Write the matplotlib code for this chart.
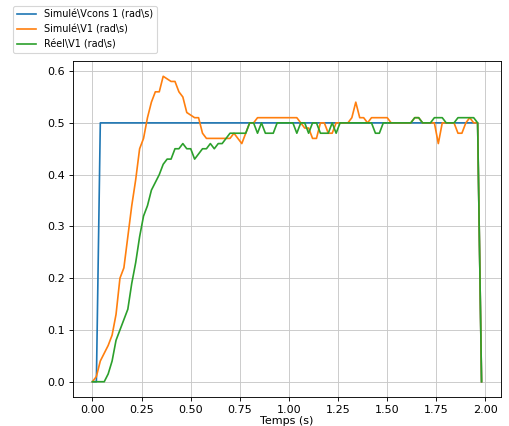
import numpy as np
import matplotlib
matplotlib.use("Agg")
import matplotlib.pyplot as plt

# time base (s), one sample every 0.02 s
temps = np.round(np.arange(0, 2.0, 0.02), 2)

# consigne simulee
vcons = [0.0, 0.0] + [0.5] * 97 + [0.0]

# vitesse simulee
v1_sim = [0.00, 0.01, 0.04, 0.055, 0.07, 0.09, 0.13, 0.20, 0.22, 0.28,
          0.34, 0.39, 0.45, 0.47, 0.51, 0.54, 0.56, 0.56, 0.59, 0.585,
          0.58, 0.58, 0.56, 0.55, 0.52, 0.515, 0.51, 0.51, 0.48, 0.47,
          0.47, 0.47, 0.47, 0.47, 0.47, 0.47, 0.48, 0.47, 0.46, 0.48,
          0.50, 0.50, 0.51, 0.51, 0.51, 0.51, 0.51, 0.51, 0.51, 0.51,
          0.51, 0.51, 0.51, 0.50, 0.49, 0.49, 0.47, 0.47, 0.50, 0.50,
          0.48, 0.48, 0.50, 0.50, 0.50, 0.50, 0.51, 0.54, 0.51, 0.51,
          0.50, 0.51, 0.51, 0.51, 0.51, 0.51, 0.50, 0.50, 0.50, 0.50,
          0.50, 0.50, 0.51, 0.51, 0.50, 0.50, 0.50, 0.50, 0.46, 0.50,
          0.50, 0.50, 0.50, 0.48, 0.48, 0.50, 0.51, 0.50, 0.50, 0.00]

# vitesse reelle mesuree
v1_reel = [0.00, 0.00, 0.00, 0.00, 0.015, 0.04, 0.08, 0.10, 0.12, 0.14,
           0.19, 0.23, 0.28, 0.32, 0.34, 0.37, 0.385, 0.40, 0.42, 0.43,
           0.43, 0.45, 0.45, 0.46, 0.45, 0.45, 0.43, 0.44, 0.45, 0.45,
           0.46, 0.45, 0.46, 0.46, 0.47, 0.48, 0.48, 0.48, 0.48, 0.48,
           0.50, 0.50, 0.48, 0.50, 0.48, 0.48, 0.48, 0.50, 0.50, 0.50,
           0.50, 0.50, 0.48, 0.50, 0.50, 0.48, 0.50, 0.50, 0.48, 0.48,
           0.48, 0.50, 0.48, 0.50, 0.50, 0.50, 0.50, 0.50, 0.50, 0.50,
           0.50, 0.50, 0.48, 0.48, 0.50, 0.50, 0.50, 0.50, 0.50, 0.50,
           0.50, 0.50, 0.51, 0.51, 0.50, 0.50, 0.50, 0.51, 0.51, 0.51,
           0.50, 0.50, 0.50, 0.51, 0.51, 0.51, 0.51, 0.51, 0.50, 0.00]

labels = [r"Simulé\Vcons 1 (rad\s)", r"Simulé\V1 (rad\s)", r"Réel\V1 (rad\s)"]

# the reference looks like a default figure shrunk by ~0.8, so draw at 80 dpi
fig = plt.figure(figsize=(509 / 80, 426 / 80), dpi=80)
ax = fig.add_axes([0.1434, 0.0681, 0.8409, 0.7887])

ax.plot(temps, vcons, color='C0', label=labels[0])
ax.plot(temps, v1_sim, color='C1', label=labels[1])
ax.plot(temps, v1_reel, color='C2', label=labels[2])

ax.set_xlabel("Temps (s)", labelpad=1)
ax.set_xticks([0.0, 0.25, 0.5, 0.75, 1.0, 1.25, 1.5, 1.75, 2.0])
ax.grid(True, color='#c8c8c8')

fig.legend(loc='upper left', bbox_to_anchor=(0.016, 0.998), fontsize=8.7)

fig.savefig("out.png", dpi=80)
